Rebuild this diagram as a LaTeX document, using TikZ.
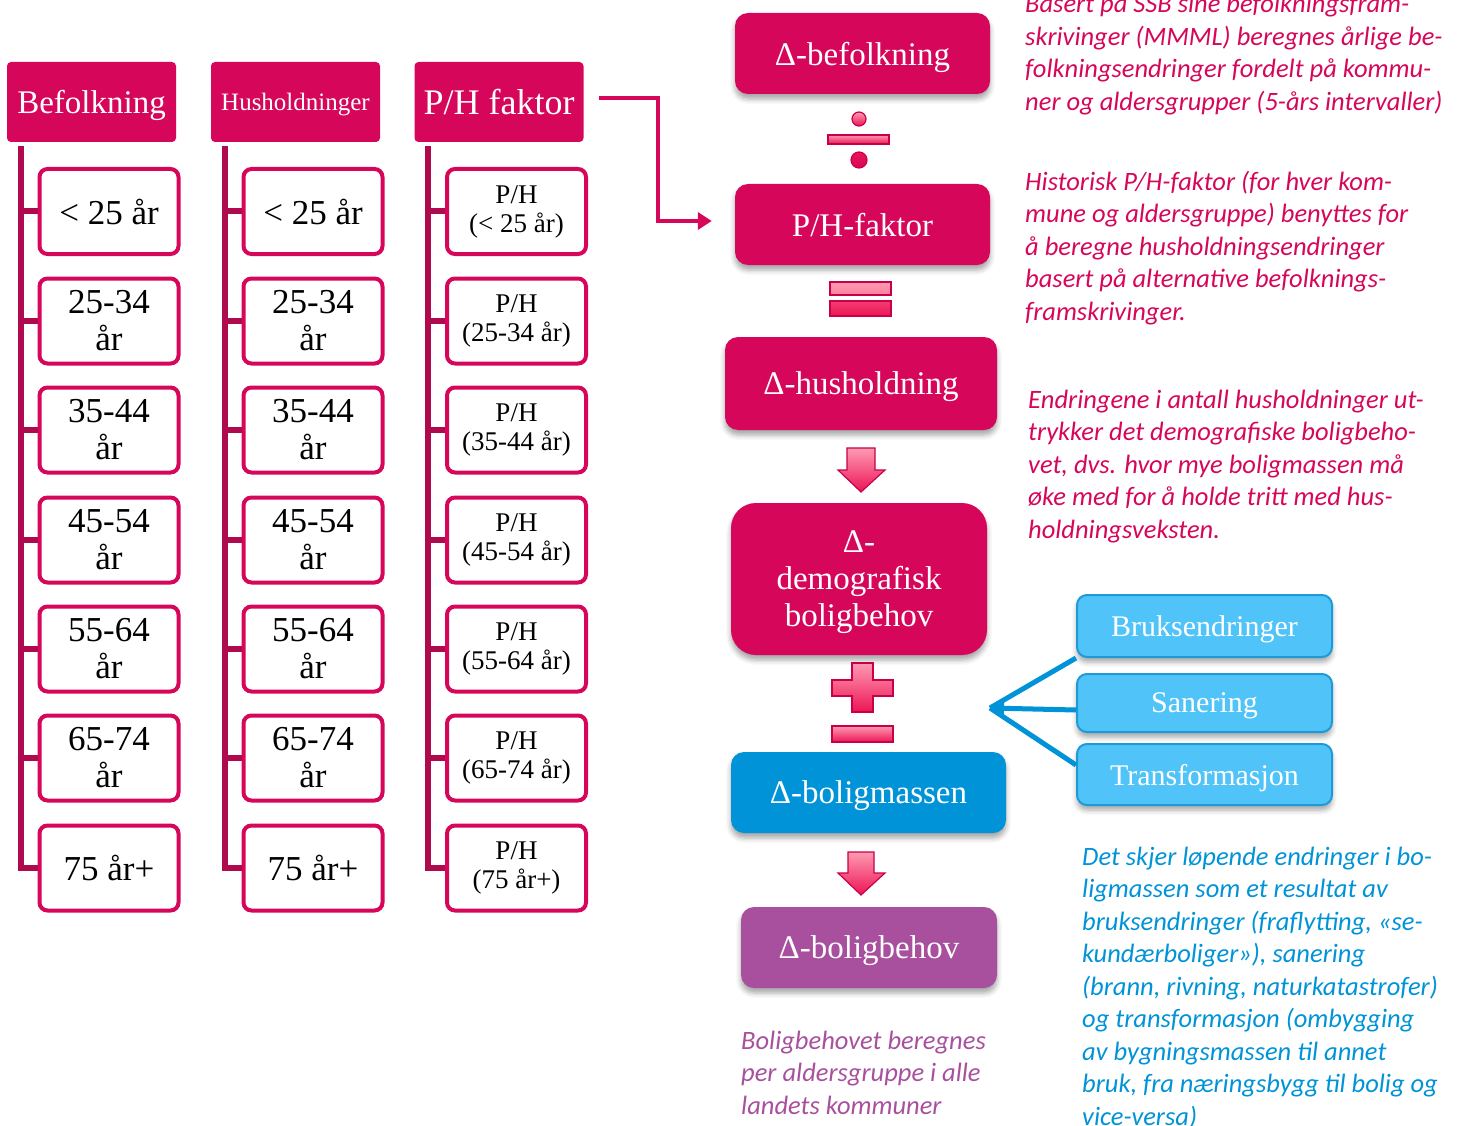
\documentclass[tikz,border=0pt]{standalone}
\usepackage{fontspec}
\setmainfont{Liberation Serif}
\newfontfamily\notefont{Carlito}
\usetikzlibrary{arrows.meta,shadows.blur}
\definecolor{crim}{HTML}{D6065A}
\definecolor{treec}{HTML}{B00A4E}
\definecolor{dblue}{HTML}{0093D7}
\definecolor{lblue}{HTML}{50C4F8}
\definecolor{lbord}{HTML}{1E9BD7}
\definecolor{purp}{HTML}{A8509E}
\definecolor{lpink}{HTML}{FF9AB2}
\definecolor{dpink}{HTML}{EC1556}
\definecolor{opline}{HTML}{C8004A}
\begin{document}
\begin{tikzpicture}[x=1pt,y=-1pt,
  hdr/.style={fill=crim, rounded corners=4pt, text=white, minimum width=169pt, minimum height=80pt, inner sep=0pt, text depth=0pt},
  agebox/.style={draw=crim, line width=4pt, fill=white, rounded corners=8pt, minimum width=139pt, minimum height=85pt, align=center, inner sep=0pt, text=black},
  agefont/.style={font=\fontsize{35}{37}\selectfont},
  phfont/.style={font=\fontsize{27}{29}\selectfont},
  tree/.style={draw=treec, line width=6pt},
  shd/.style={blur shadow={shadow xshift=0pt, shadow yshift=-5pt, shadow opacity=35, shadow blur radius=5pt}},
  rbox/.style={shd, rounded corners=13pt, text=white, inner sep=0pt, align=center, text depth=0pt, font=\fontsize{33}{37}\selectfont},
  sbox/.style={shd, fill=lblue, draw=lbord, line width=2pt, rounded corners=10pt, text=white, minimum width=255pt, inner sep=0pt, text depth=0pt, font=\fontsize{30}{34}\selectfont},
  barrow/.style={draw=dblue, line width=5pt},
  parrow/.style={draw=crim, line width=4pt, -{Triangle[length=14pt,width=17pt]}},
  opst/.style={draw=opline, line width=1.2pt, top color=lpink, bottom color=dpink},
  note/.style={anchor=north west, inner sep=0pt, align=left, font=\notefont\itshape\fontsize{26.5}{32.5}\selectfont}
]
\useasboundingbox (0,0) rectangle (1459,1126);

% headers
\node[hdr, font=\fontsize{33}{36}\selectfont] (hB) at (91.5,102) {Befolkning};
\node[hdr, font=\fontsize{25}{28}\selectfont] (hH) at (295.5,102) {Husholdninger};
\node[hdr, font=\fontsize{36}{40}\selectfont] (hP) at (499,102) {P/H faktor};

% age boxes
\foreach \i/\y/\t in {1/211.5/{< 25 år}, 2/321/{25-34\\år}, 3/430/{35-44\\år}, 4/540/{45-54\\år}, 5/649/{55-64\\år}, 6/758/{65-74\\år}, 7/868/{75 år+}} {
  \node[agebox, agefont] (b\i) at (109,\y) {\t};
  \node[agebox, agefont] (h\i) at (313,\y) {\t};
}
\foreach \i/\y/\t in {1/211.5/{P/H\\(< 25 år)}, 2/321/{P/H\\(25-34 år)}, 3/430/{P/H\\(35-44 år)}, 4/540/{P/H\\(45-54 år)}, 5/649/{P/H\\(55-64 år)}, 6/758/{P/H\\(65-74 år)}, 7/868/{P/H\\(75 år+)}} {
  \node[agebox, phfont] (p\i) at (516.5,\y) {\t};
}

% tree lines
\draw[tree] ([xshift=14pt,yshift=-4pt]hB.south west) |- (b7.west);
\draw[tree] ([xshift=14pt,yshift=-4pt]hH.south west) |- (h7.west);
\draw[tree] ([xshift=14pt,yshift=-4pt]hP.south west) |- (p7.west);
\foreach \i in {1,...,6} {
  \draw[tree] (b\i.west) -- ([xshift=14pt]hB.west |- b\i.west);
  \draw[tree] (h\i.west) -- ([xshift=14pt]hH.west |- h\i.west);
  \draw[tree] (p\i.west) -- ([xshift=14pt]hP.west |- p\i.west);
}

% right column
\node[rbox, fill=crim, minimum width=255pt, minimum height=81pt] (rB) at (862.5,53.5) {Δ-befolkning};
\node[rbox, fill=crim, minimum width=255pt, minimum height=81pt] (rPH) at (862.5,224.5) {P/H-faktor};
\node[rbox, fill=crim, minimum width=272pt, minimum height=93pt] (rHH) at (861,383.5) {Δ-husholdning};
\node[rbox, fill=crim, minimum width=256pt, minimum height=152pt, rounded corners=25pt] (rDG) at (859,579) {Δ-\\demografisk\\boligbehov};
\node[rbox, fill=dblue, minimum width=275pt, minimum height=81pt] (rBM) at (868.5,792.5) {Δ-boligmassen};
\node[rbox, fill=purp, minimum width=256pt, minimum height=81pt] (rBB) at (869,947.5) {Δ-boligbehov};

% arrow from P/H faktor
\draw[parrow] ([xshift=15pt,yshift=4pt]hP.east) -- ++(59,0) |- ([xshift=-23pt,yshift=3.5pt]rPH.west);

% divide
\draw[opst] (859,119) circle (7pt);
\draw[opst] (828,135) rectangle (889,144);
\draw[draw=opline, line width=1.2pt, top color=dpink, bottom color=crim] (859,160) circle (8pt);
% equals
\draw[opst, top color=lpink, bottom color=lpink!80!dpink] (830,282) rectangle (891,295);
\draw[opst, top color=dpink!70!lpink, bottom color=dpink] (830,301) rectangle (891,316);
% plus / minus
\draw[opst] (852,663) -- (873,663) -- (873,680) -- (893,680) -- (893,696) -- (873,696) -- (873,712) -- (852,712) -- (852,696) -- (832,696) -- (832,680) -- (852,680) -- cycle;
\draw[opst] (832,726) rectangle (893,742);
% down arrows
\draw[opst] (847,448) -- (875,448) -- (875,470) -- (885,470) -- (861,492) -- (838,470) -- (847,470) -- cycle;
\draw[opst] (848,852) -- (874,852) -- (874,873) -- (885,873) -- (861,895) -- (838,873) -- (848,873) -- cycle;

% blue side boxes
\node[sbox, minimum height=62pt] (s1) at (1204.5,626) {Bruksendringer};
\node[sbox, minimum height=58pt] (s2) at (1204.5,703) {Sanering};
\node[sbox, minimum height=61pt] (s3) at (1204.5,774.5) {Transformasjon};
\coordinate (tipB) at (990,708);
\draw[barrow] (s1.south west) -- (tipB);
\draw[barrow] ([yshift=-22pt]s3.north west) -- (tipB);
\draw[barrow, -{Triangle[length=14pt,width=20pt]}] ([yshift=-7pt]s2.west) -- (tipB);

% notes
\node[note, text=crim] (t1) at (1025,-10.25) {\strut Basert på SSB sine befolkningsfram-\\\strut skrivinger (MMML) beregnes årlige be-\\\strut folkningsendringer fordelt på kommu-\\\strut ner og aldersgrupper (5-års intervaller)};
\node[note, text=crim] (t2) at (1025,167.25) {\strut Historisk P/H-faktor (for hver kom-\\\strut mune og aldersgruppe) benyttes for\\\strut å beregne husholdningsendringer\\\strut basert på alternative befolknings-\\\strut framskrivinger.};
\node[note, text=crim] (t3) at (1028,385.25) {\strut Endringene i antall husholdninger ut-\\\strut trykker det demografiske boligbeho-\\\strut vet, dvs. hvor mye boligmassen må\\\strut øke med for å holde tritt med hus-\\\strut holdningsveksten.};
\node[note, text=dblue] (t4) at (1082,842.25) {\strut Det skjer løpende endringer i bo-\\\strut ligmassen som et resultat av\\\strut bruksendringer (fraflytting, «se-\\\strut kundærboliger»), sanering\\\strut (brann, rivning, naturkatastrofer)\\\strut og transformasjon (ombygging\\\strut av bygningsmassen til annet\\\strut bruk, fra næringsbygg til bolig og\\\strut vice-versa)};
\node[note, text=purp] (t5) at (741,1026.25) {\strut Boligbehovet beregnes\\\strut per aldersgruppe i alle\\\strut landets kommuner};
\end{tikzpicture}
\end{document}
